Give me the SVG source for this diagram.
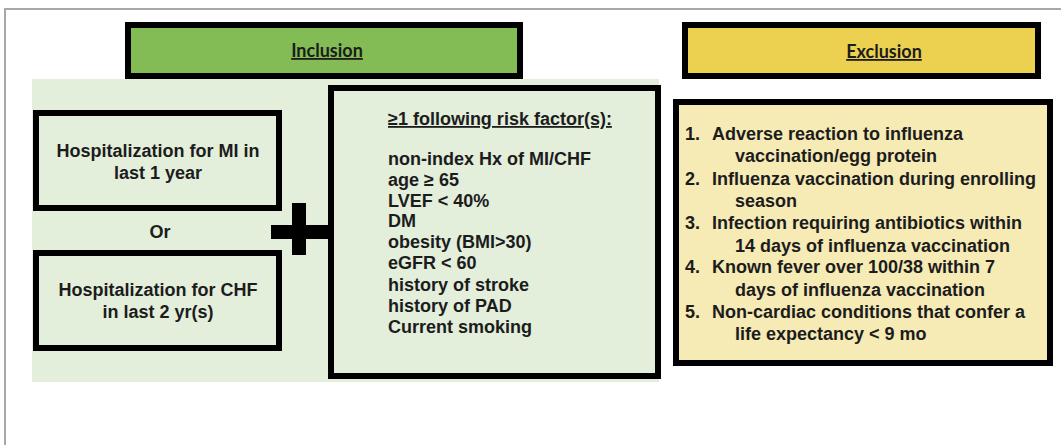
<svg xmlns="http://www.w3.org/2000/svg" width="1061" height="445" viewBox="0 0 1061 445">
<style>
.t{font-family:"Liberation Sans",Arial,sans-serif;font-weight:bold;font-size:18px;fill:#1c1c1c}
.h{font-family:Lato,"Liberation Sans",sans-serif;font-weight:bold;font-size:18px;fill:#1c1c1c;text-decoration:underline}
.box{stroke:#000;stroke-width:6}
</style>
<rect width="1061" height="445" fill="#fff"/>
<path d="M5 445V9H1061" fill="none" stroke="#a8a8a8" stroke-width="2"/>
<g id="inclusion-header">
<rect class="box" x="128" y="25" width="392" height="51" fill="#83bb55"/>
<text class="h" x="327" y="57" text-anchor="middle">Inclusion</text>
</g>
<g id="exclusion-header">
<rect class="box" x="685" y="25" width="353" height="51" fill="#ecd150"/>
<text class="h" x="884" y="58" text-anchor="middle">Exclusion</text>
</g>
<rect id="inclusion-bg" x="32" y="79" width="627" height="303" fill="#e3eedb"/>
<g id="mi">
<rect class="box" x="36" y="113" width="243" height="95" fill="#e3eedb"/>
<text class="t" x="158" y="157" text-anchor="middle">Hospitalization for MI in</text>
<text class="t" x="158" y="179" text-anchor="middle">last 1 year</text>
</g>
<g id="or"><text class="t" x="160" y="238" text-anchor="middle">Or</text></g>
<g id="chf">
<rect class="box" x="36" y="253" width="243" height="95" fill="#e3eedb"/>
<text class="t" x="158" y="296" text-anchor="middle">Hospitalization for CHF</text>
<text class="t" x="158" y="318" text-anchor="middle">in last 2 yr(s)</text>
</g>
<g id="connectors">
<rect x="271" y="225" width="61" height="14" fill="#000"/>
<rect x="292" y="203" width="14" height="52" fill="#000"/>
</g>
<g id="risk">
<rect class="box" x="331" y="88" width="327" height="288" fill="#e3eedb"/>
<text class="t" x="388" y="125" text-decoration="underline">≥1 following risk factor(s):</text>
<text class="t" x="388" y="165">non-index Hx of MI/CHF</text>
<text class="t" x="388" y="186">age ≥ 65</text>
<text class="t" x="388" y="207">LVEF &lt; 40%</text>
<text class="t" x="388" y="227">DM</text>
<text class="t" x="388" y="248">obesity (BMI&gt;30)</text>
<text class="t" x="388" y="269">eGFR &lt; 60</text>
<text class="t" x="388" y="291">history of stroke</text>
<text class="t" x="388" y="312">history of PAD</text>
<text class="t" x="388" y="333">Current smoking</text>
</g>
<g id="exclusion">
<rect class="box" x="676" y="102" width="374" height="261" fill="#f6eab5"/>
<text class="t" x="685" y="140">1.</text><text class="t" x="712" y="140">Adverse reaction to influenza</text>
<text class="t" x="735" y="162">vaccination/egg protein</text>
<text class="t" x="685" y="185">2.</text><text class="t" x="712" y="185">Influenza vaccination during enrolling</text>
<text class="t" x="735" y="207">season</text>
<text class="t" x="685" y="229">3.</text><text class="t" x="712" y="229">Infection requiring antibiotics within</text>
<text class="t" x="735" y="252">14 days of influenza vaccination</text>
<text class="t" x="685" y="273">4.</text><text class="t" x="712" y="273">Known fever over 100/38 within 7</text>
<text class="t" x="735" y="296">days of influenza vaccination</text>
<text class="t" x="685" y="318">5.</text><text class="t" x="712" y="318">Non-cardiac conditions that confer a</text>
<text class="t" x="735" y="340">life expectancy &lt; 9 mo</text>
</g>
</svg>
